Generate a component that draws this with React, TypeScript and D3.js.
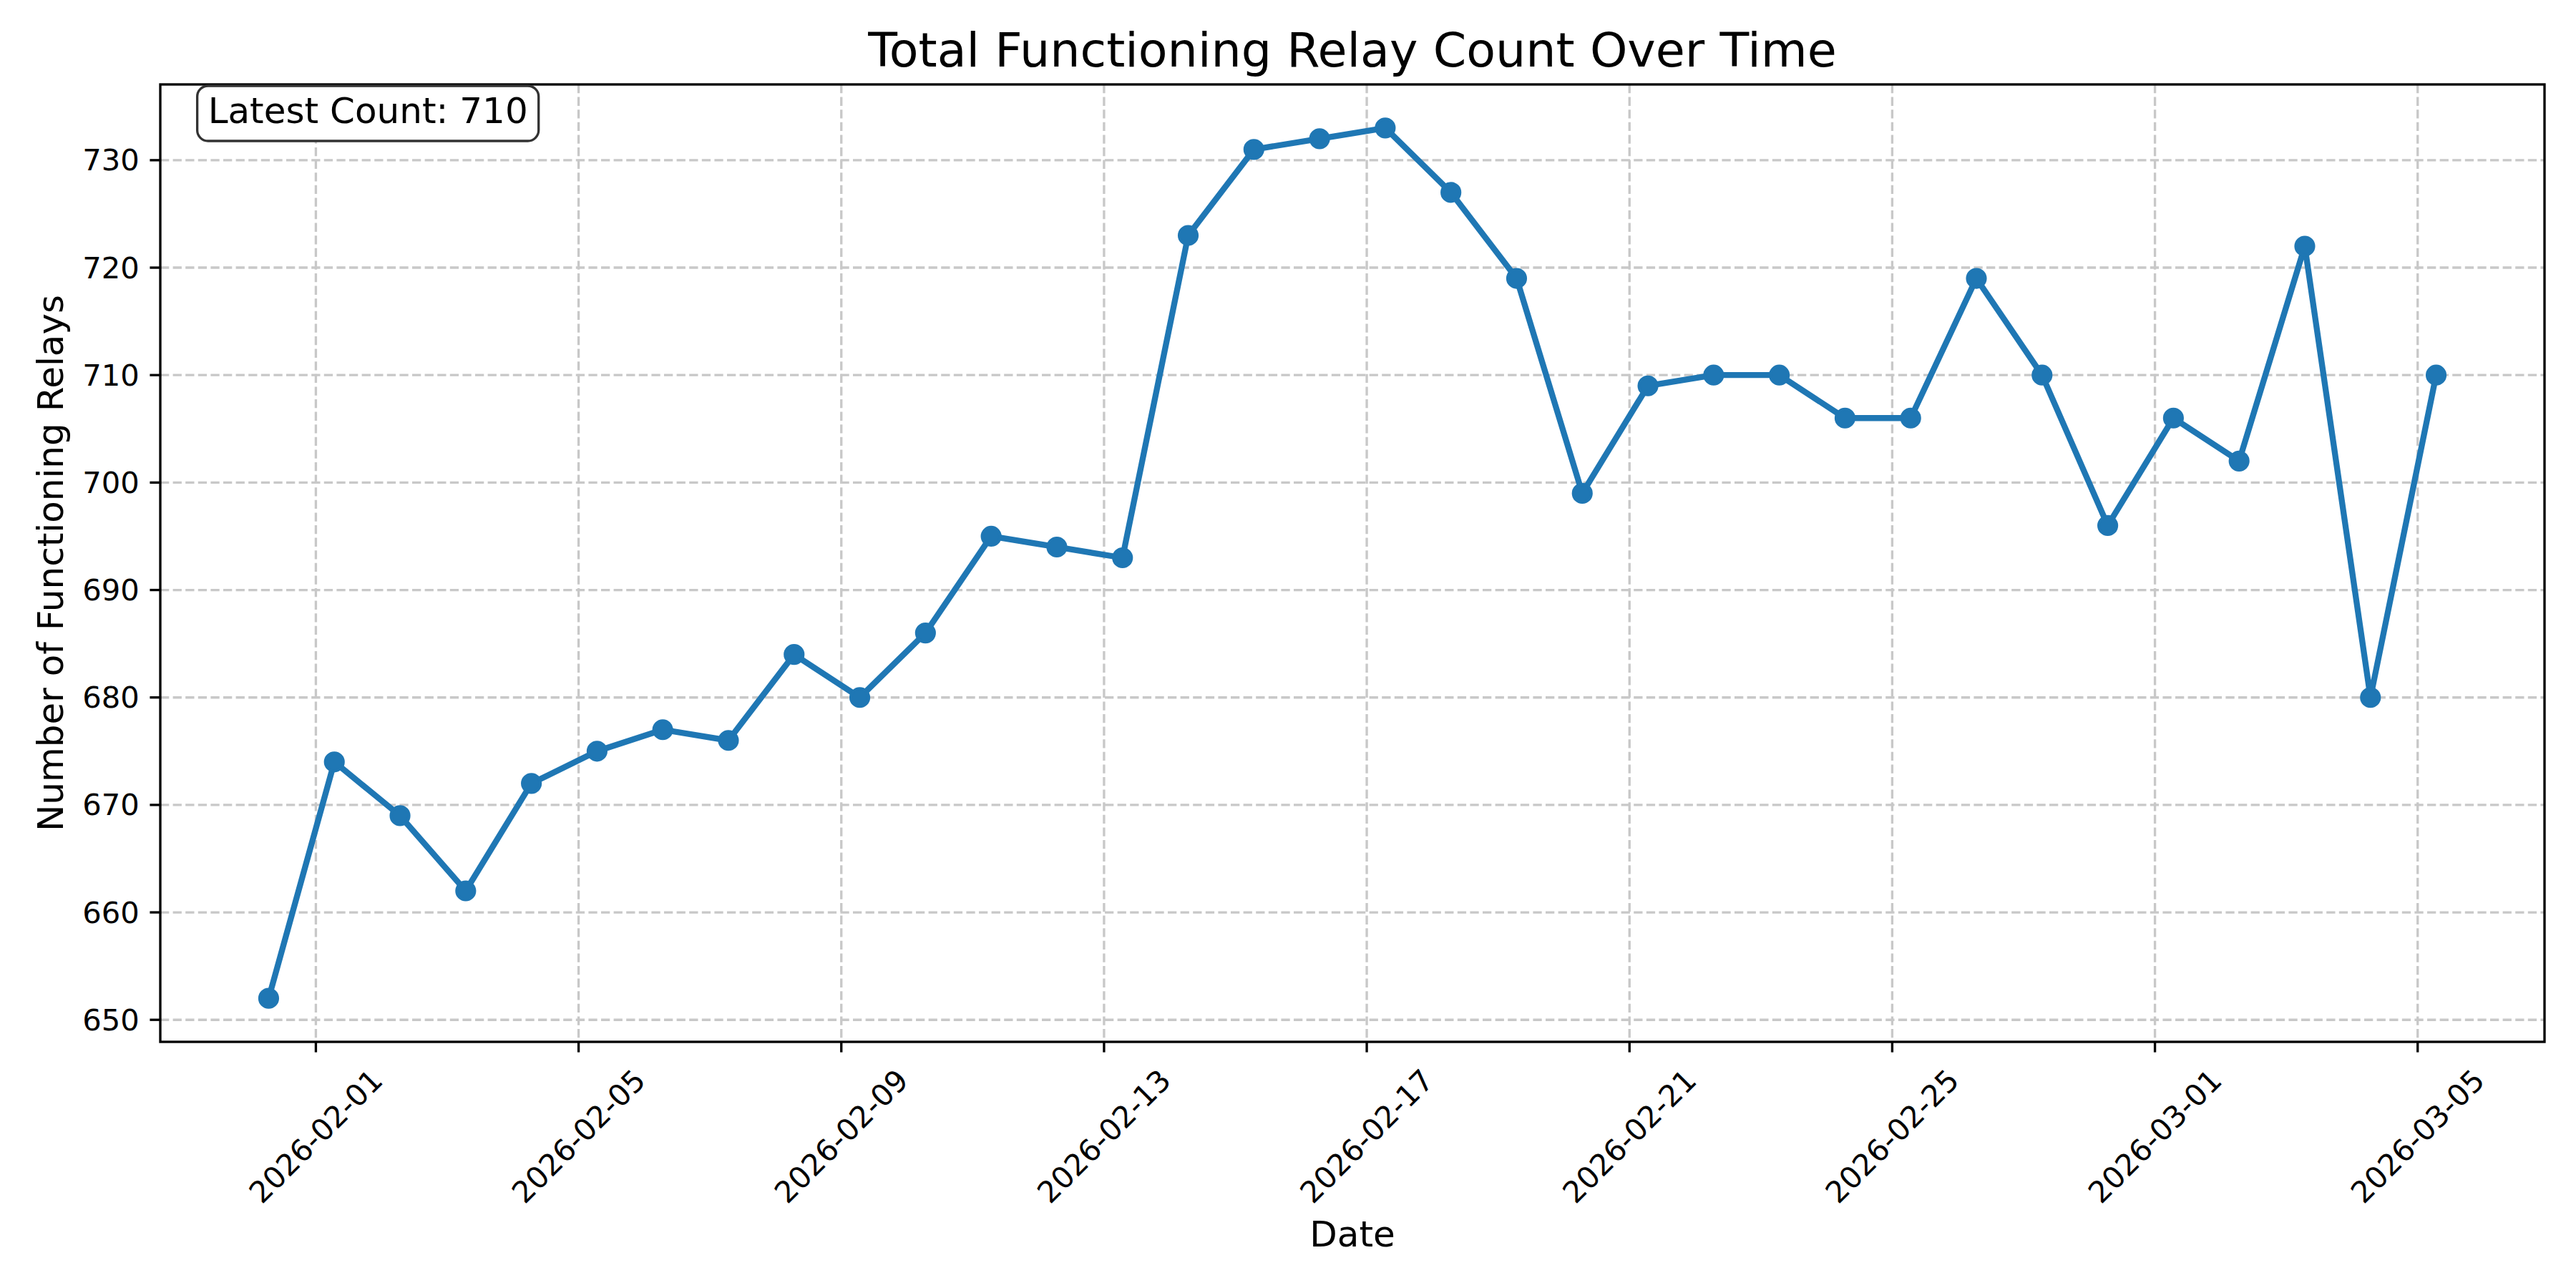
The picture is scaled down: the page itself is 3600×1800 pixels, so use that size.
import React, { useEffect, useRef } from 'react';
import * as d3 from 'd3';

// relay counts, one reading per day (UTC)
const dates = [
  '2026-01-31T06:45:00Z', '2026-02-01T06:45:00Z', '2026-02-02T06:45:00Z', '2026-02-03T06:45:00Z',
  '2026-02-04T06:45:00Z', '2026-02-05T06:45:00Z', '2026-02-06T06:45:00Z', '2026-02-07T06:45:00Z',
  '2026-02-08T06:45:00Z', '2026-02-09T06:45:00Z', '2026-02-10T06:45:00Z', '2026-02-11T06:45:00Z',
  '2026-02-12T06:45:00Z', '2026-02-13T06:45:00Z', '2026-02-14T06:45:00Z', '2026-02-15T06:45:00Z',
  '2026-02-16T06:45:00Z', '2026-02-17T06:45:00Z', '2026-02-18T06:45:00Z', '2026-02-19T06:45:00Z',
  '2026-02-20T06:45:00Z', '2026-02-21T06:45:00Z', '2026-02-22T06:45:00Z', '2026-02-23T06:45:00Z',
  '2026-02-24T06:45:00Z', '2026-02-25T06:45:00Z', '2026-02-26T06:45:00Z', '2026-02-27T06:45:00Z',
  '2026-02-28T06:45:00Z', '2026-03-01T06:45:00Z', '2026-03-02T06:45:00Z', '2026-03-03T06:45:00Z',
  '2026-03-04T06:45:00Z', '2026-03-05T06:45:00Z',
];

const counts = [
  652, 674, 669, 662, 672, 675, 677, 676, 684, 680, 686, 695, 694, 693, 723, 731, 732,
  733, 727, 719, 699, 709, 710, 710, 706, 706, 719, 710, 696, 706, 702, 722, 680, 710,
];

const xTickLabels = [
  '2026-02-01', '2026-02-05', '2026-02-09', '2026-02-13', '2026-02-17',
  '2026-02-21', '2026-02-25', '2026-03-01', '2026-03-05',
];
const yTicks = [650, 660, 670, 680, 690, 700, 710, 720, 730];

const title = 'Total Functioning Relay Count Over Time';
const xLabel = 'Date';
const yLabel = 'Number of Functioning Relays';

const W = 3600;
const H = 1800;
const FONT = 'DejaVu Sans, sans-serif';
const BLUE = '#1f77b4';

export default function App() {
  const ref = useRef<SVGSVGElement>(null);

  useEffect(() => {
    document.body.style.margin = '0';
    const svg = d3.select(ref.current);
    svg.selectAll('*').remove();

    const left = 224;
    const right = 3556;
    const top = 118;
    const bottom = 1456;

    const data = dates.map((d, i) => ({ date: new Date(d), value: counts[i] }));

    // matplotlib style 5% margins
    const [t0, t1] = d3.extent(data, (d) => d.date.getTime()) as [number, number];
    const tPad = (t1 - t0) * 0.05;
    const [v0, v1] = d3.extent(data, (d) => d.value) as [number, number];
    const vPad = (v1 - v0) * 0.05;

    const x = d3.scaleUtc().domain([new Date(t0 - tPad), new Date(t1 + tPad)]).range([left, right]);
    const y = d3.scaleLinear().domain([v0 - vPad, v1 + vPad]).range([bottom, top]);

    const xTicks = xTickLabels.map((s) => new Date(`${s}T00:00:00Z`));

    svg.append('rect').attr('width', W).attr('height', H).attr('fill', 'white');

    // grid
    const grid = svg.append('g')
      .attr('stroke', '#c8c8c8')
      .attr('stroke-width', 3.33)
      .attr('stroke-dasharray', '12.3,5.3');
    grid.selectAll('line.gx').data(xTicks).enter().append('line')
      .attr('x1', (d) => x(d)).attr('x2', (d) => x(d))
      .attr('y1', top).attr('y2', bottom);
    grid.selectAll('line.gy').data(yTicks).enter().append('line')
      .attr('x1', left).attr('x2', right)
      .attr('y1', (d) => y(d)).attr('y2', (d) => y(d));

    // series
    const line = d3.line<{ date: Date; value: number }>()
      .x((d) => x(d.date))
      .y((d) => y(d.value));
    svg.append('path')
      .datum(data)
      .attr('d', line)
      .attr('fill', 'none')
      .attr('stroke', BLUE)
      .attr('stroke-width', 8.33)
      .attr('stroke-linejoin', 'round')
      .attr('stroke-linecap', 'square');
    svg.append('g').selectAll('circle').data(data).enter().append('circle')
      .attr('cx', (d) => x(d.date))
      .attr('cy', (d) => y(d.value))
      .attr('r', 12.5)
      .attr('fill', BLUE)
      .attr('stroke', BLUE)
      .attr('stroke-width', 4.17);

    // spines
    svg.append('rect')
      .attr('x', left).attr('y', top)
      .attr('width', right - left).attr('height', bottom - top)
      .attr('fill', 'none')
      .attr('stroke', 'black')
      .attr('stroke-width', 3.33)
      .attr('stroke-linejoin', 'miter');

    // x ticks
    const xt = svg.append('g');
    xt.selectAll('line').data(xTicks).enter().append('line')
      .attr('x1', (d) => x(d)).attr('x2', (d) => x(d))
      .attr('y1', bottom).attr('y2', bottom + 14.6)
      .attr('stroke', 'black').attr('stroke-width', 3.33);
    xt.selectAll('text').data(xTicks).enter().append('text')
      .attr('transform', (d) => `translate(${x(d)},${bottom + 29 + 103}) rotate(-45)`)
      .attr('text-anchor', 'middle')
      .attr('dominant-baseline', 'central')
      .attr('font-family', FONT)
      .attr('font-size', 41.7)
      .text((d, i) => xTickLabels[i]);

    // y ticks
    const yt = svg.append('g');
    yt.selectAll('line').data(yTicks).enter().append('line')
      .attr('x1', left - 14.6).attr('x2', left)
      .attr('y1', (d) => y(d)).attr('y2', (d) => y(d))
      .attr('stroke', 'black').attr('stroke-width', 3.33);
    yt.selectAll('text').data(yTicks).enter().append('text')
      .attr('x', left - 29.2)
      .attr('y', (d) => y(d))
      .attr('text-anchor', 'end')
      .attr('dominant-baseline', 'central')
      .attr('font-family', FONT)
      .attr('font-size', 41.7)
      .text((d) => String(d));

    // labels
    svg.append('text')
      .attr('x', (left + right) / 2).attr('y', 93)
      .attr('text-anchor', 'middle')
      .attr('font-family', FONT)
      .attr('font-size', 66.7)
      .text(title);
    svg.append('text')
      .attr('x', (left + right) / 2).attr('y', 1742)
      .attr('text-anchor', 'middle')
      .attr('font-family', FONT)
      .attr('font-size', 50)
      .text(xLabel);
    svg.append('text')
      .attr('transform', `translate(88,${(top + bottom) / 2}) rotate(-90)`)
      .attr('text-anchor', 'middle')
      .attr('font-family', FONT)
      .attr('font-size', 50)
      .text(yLabel);

    // latest count box
    const latest = counts[counts.length - 1];
    const box = svg.append('g');
    const boxRect = box.append('rect');
    const boxText = box.append('text')
      .attr('x', left + 0.02 * (right - left))
      .attr('y', 172)
      .attr('font-family', FONT)
      .attr('font-size', 50)
      .text(`Latest Count: ${latest}`);
    const tw = (boxText.node() as SVGTextElement).getComputedTextLength();
    const tx = left + 0.02 * (right - left);
    boxRect
      .attr('x', tx - 15).attr('y', 120)
      .attr('width', tw + 30).attr('height', 77)
      .attr('rx', 15).attr('ry', 15)
      .attr('fill', 'white')
      .attr('stroke', '#333333')
      .attr('stroke-width', 3.33);
  }, []);

  return <svg ref={ref} width={W} height={H} style={{ display: 'block' }} />;
}
